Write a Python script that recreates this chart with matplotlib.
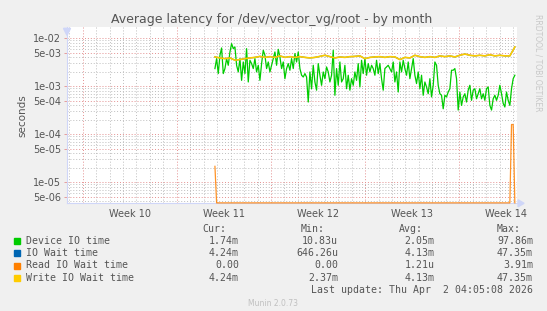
import numpy as np
import matplotlib
matplotlib.use("Agg")
import matplotlib.pyplot as plt
from matplotlib.patches import Rectangle, FancyArrow

# ---------------- data (milliseconds) ----------------
device_io_ms = [
    2.34, 3.77, 1.84, 4.43, 6.29, 1.84, 2.34, 3.77, 2.74, 5.19,
    7.74, 6.09, 6.6, 2.74, 1.99, 3.77, 1.33, 3.21, 1.84, 6.09,
    1.23, 3.48, 2.97, 2.34, 3.77, 1.99, 2.74, 1.33, 2.97, 5.62,
    4.43, 2.34, 3.21, 1.99, 2.74, 3.77, 5.19, 2.74, 5.9, 4.09,
    2.34, 3.21, 1.44, 2.34, 2.97, 2.16, 3.77, 2.34, 4.80, 3.21,
    5.19, 2.34, 1.70, 1.56, 1.84, 1.56, 0.47, 1.99, 0.89, 2.74,
    1.23, 0.83, 2.97, 1.70, 1.05, 1.99, 1.44, 2.53, 1.99, 1.23,
    1.70, 5.62, 0.65, 2.34, 1.05, 3.21, 1.23, 1.44, 2.74, 0.89,
    1.70, 0.83, 1.44, 1.05, 1.99, 1.33, 2.97, 0.97, 3.48, 1.84,
    3.77, 1.70, 2.97, 1.99, 2.74, 2.34, 1.70, 3.48, 1.84, 2.97,
    1.44, 0.83, 2.34, 2.53, 2.74, 2.34, 1.99, 3.21, 1.23, 1.99,
    0.76, 3.21, 1.99, 3.48, 2.34, 1.70, 3.21, 1.44, 2.34, 3.77,
    1.70, 1.14, 1.99, 0.89, 1.70, 0.65, 1.23, 0.97, 0.70, 1.44,
    0.60, 1.05, 3.21, 2.74, 1.05, 0.70, 0.65, 0.34, 0.65, 0.60,
    0.76, 0.89, 2.16, 2.16, 2.34, 1.44, 0.32, 0.76, 0.40, 0.60,
    0.70, 0.47, 0.83, 1.05, 0.51, 0.83, 0.89, 0.55, 0.70, 0.89,
    0.55, 0.70, 0.51, 0.89, 0.97, 0.40, 0.32, 0.55, 0.65, 0.51,
    0.65, 1.05, 0.70, 0.44, 0.37, 0.76, 0.51, 0.40, 0.89, 1.44,
    1.70,
]
write_wait_ms = [
    4.09, 3.9, 3.77, 3.9, 3.5, 3.6, 3.77, 3.9, 4.0, 4.2,
    4.0, 4.15, 4.0, 4.3, 4.0, 4.15, 4.0, 4.15, 4.0, 3.9,
    4.0, 4.2, 4.43, 4.15, 3.9, 4.09, 4.0, 4.15, 4.2, 4.3,
    3.77, 4.0, 4.09, 4.15, 4.0, 4.15, 4.09, 3.6, 4.0, 3.9,
    4.43, 4.15, 4.0, 4.15, 4.0, 4.3, 4.15, 4.3, 4.09, 4.43,
    4.7, 4.43, 4.3, 4.43, 4.3, 4.55, 4.3, 4.43, 4.3, 4.3,
    6.6,
]
io_wait_ms = list(write_wait_ms)
read_wait_ms = [0.0215, 0.0] + [0.0] * 176 + [0.16, 0.16, 0.0]

start_day, end_day = 11.0, 33.3          # time span with data (days from left edge)
week_numbers = [10, 11, 12, 13, 14]
first_week_start = 1.167                 # day offset of first Monday shown
x_span = 33.46

legend_names = ["Device IO time", "IO Wait time", "Read IO Wait time", "Write IO Wait time"]
legend_colors = ["#00CC00", "#0066B3", "#FF8000", "#FFCC00"]
stat_cur = ["1.74m", "4.24m", "0.00", "4.24m"]
stat_min = ["10.83u", "646.26u", "0.00", "2.37m"]
stat_avg = ["2.05m", "4.13m", "1.21u", "4.13m"]
stat_max = ["97.86m", "47.35m", "3.91m", "47.35m"]

# ---------------- figure ----------------
W, H = 547, 311
fig = plt.figure(figsize=(W / 100, H / 100), dpi=100, facecolor="#F0F0F0")

L, T, R, B = 67, 27.3, 517, 203.3
ax = fig.add_axes([L / W, 1 - B / H, (R - L) / W, (B - T) / H])
ax.set_facecolor("white")
ax.set_yscale("log")
ymin, ymax = 10 ** -5.4375, 10 ** -1.771
ax.set_ylim(ymin, ymax)
ax.set_xlim(0, x_span)

# grid
grid_c = "#BEBEBE"
mgrid_c = "#E49090"
for k in range(-1, 34):
    d = first_week_start + k
    if 0 < d < x_span:
        is_week = (k % 7 == 0)
        ax.axvline(d, color=mgrid_c if is_week else grid_c, lw=0.7,
                   ls=(0, (1, 2)), zorder=1)
for e in range(-6, -1):
    for m in range(1, 10):
        v = m * 10.0 ** e
        if ymin < v < ymax:
            major = m in (1, 5)
            ax.axhline(v, color=mgrid_c if major else grid_c, lw=0.7,
                       ls=(0, (1, 2)), zorder=1)

# series
t_dev = np.linspace(start_day, end_day, len(device_io_ms))
t_wait = np.linspace(start_day, end_day, len(write_wait_ms))
t_read = np.linspace(start_day, end_day, len(read_wait_ms))
lw = 0.9
ax.plot(t_dev, np.array(device_io_ms) / 1000, color=legend_colors[0], lw=lw, zorder=3)
ax.plot(t_wait, np.array(io_wait_ms) / 1000, color=legend_colors[1], lw=lw, zorder=3)
read_s = np.clip(np.array(read_wait_ms) / 1000, ymin * 1.02, None)
ax.plot(t_read, read_s, color=legend_colors[2], lw=lw, zorder=3, clip_on=False, alpha=0.85)
ax.plot(t_wait, np.array(write_wait_ms) / 1000, color=legend_colors[3], lw=1.2, zorder=4)

# axes style
for s in ["top", "right"]:
    ax.spines[s].set_visible(False)
ax.spines["left"].set_color("#CFD6F8")
ax.spines["bottom"].set_color("#CFD6F8")
ax.spines["left"].set_linewidth(0.8)
ax.spines["bottom"].set_linewidth(0.8)

yt = []
ytl = []
for e in range(-2, -6, -1):
    yt += [10.0 ** e, 5 * 10.0 ** (e - 1)]
    ytl += [f"1e-{-e:02d}", f"5e-{-e + 1:02d}"]
ax.set_yticks(yt)
ax.set_yticklabels(ytl)
ax.yaxis.set_minor_locator(matplotlib.ticker.NullLocator())
ax.tick_params(axis="y", length=2, width=0.6, color=mgrid_c, labelsize=7,
               labelcolor="#555555", pad=2)
ax.set_xticks([first_week_start + 3.5 + 7 * i for i in range(len(week_numbers))])
ax.set_xticklabels([f"Week {w}" for w in week_numbers])
ax.tick_params(axis="x", length=0, labelsize=7, labelcolor="#555555", pad=4)

ax.set_ylabel("seconds", fontsize=7.5, color="#555555", labelpad=4)

# arrows
fig.patches.append(FancyArrow(L / W, 1 - (T + 1) / H, 0, -0.0001, width=0,
                              head_width=7 / W, head_length=7 / H,
                              color="#CFD6F8", transform=fig.transFigure,
                              length_includes_head=False))
fig.patches.append(FancyArrow((R + 1) / W, 1 - B / H, 0.0001, 0, width=0,
                              head_width=7 / H, head_length=6 / W,
                              color="#CFD6F8", transform=fig.transFigure,
                              length_includes_head=False))

# title and side text
fig.text(272 / W, 1 - 19 / H, "Average latency for /dev/vector_vg/root - by month",
         ha="center", va="center", fontsize=9, color="#555555")
fig.text(538 / W, 1 - 14 / H, "RRDTOOL / TOBI OETIKER", rotation=270,
         ha="center", va="top", fontsize=5.5, color="#C8C8C8")

# legend
mono = dict(family="DejaVu Sans Mono", fontsize=7.1, color="#555555")
hy = 228.5
fig.text(202 / W, 1 - hy / H, "Cur:", ha="left", va="center", **mono)
fig.text(301 / W, 1 - hy / H, "Min:", ha="left", va="center", **mono)
fig.text(399 / W, 1 - hy / H, "Avg:", ha="left", va="center", **mono)
fig.text(497 / W, 1 - hy / H, "Max:", ha="left", va="center", **mono)
rows = [240.6, 253.0, 265.5, 278.0]
for i, y in enumerate(rows):
    fig.patches.append(Rectangle((14 / W, 1 - (y + 3) / H), 6 / W, 6 / H,
                                 color=legend_colors[i], transform=fig.transFigure))
    fig.text(26 / W, 1 - y / H, legend_names[i], ha="left", va="center", **mono)
    fig.text(239 / W, 1 - y / H, stat_cur[i], ha="right", va="center", **mono)
    fig.text(338 / W, 1 - y / H, stat_min[i], ha="right", va="center", **mono)
    fig.text(434.5 / W, 1 - y / H, stat_avg[i], ha="right", va="center", **mono)
    fig.text(533 / W, 1 - y / H, stat_max[i], ha="right", va="center", **mono)
fig.text(533 / W, 1 - 290.3 / H, "Last update: Thu Apr  2 04:05:08 2026",
         ha="right", va="center", **mono)
fig.text(273 / W, 1 - 304 / H, "Munin 2.0.73", ha="center", va="center",
         fontsize=5.5, color="#C0C0C0")

fig.savefig("out.png", dpi=100, facecolor=fig.get_facecolor())
